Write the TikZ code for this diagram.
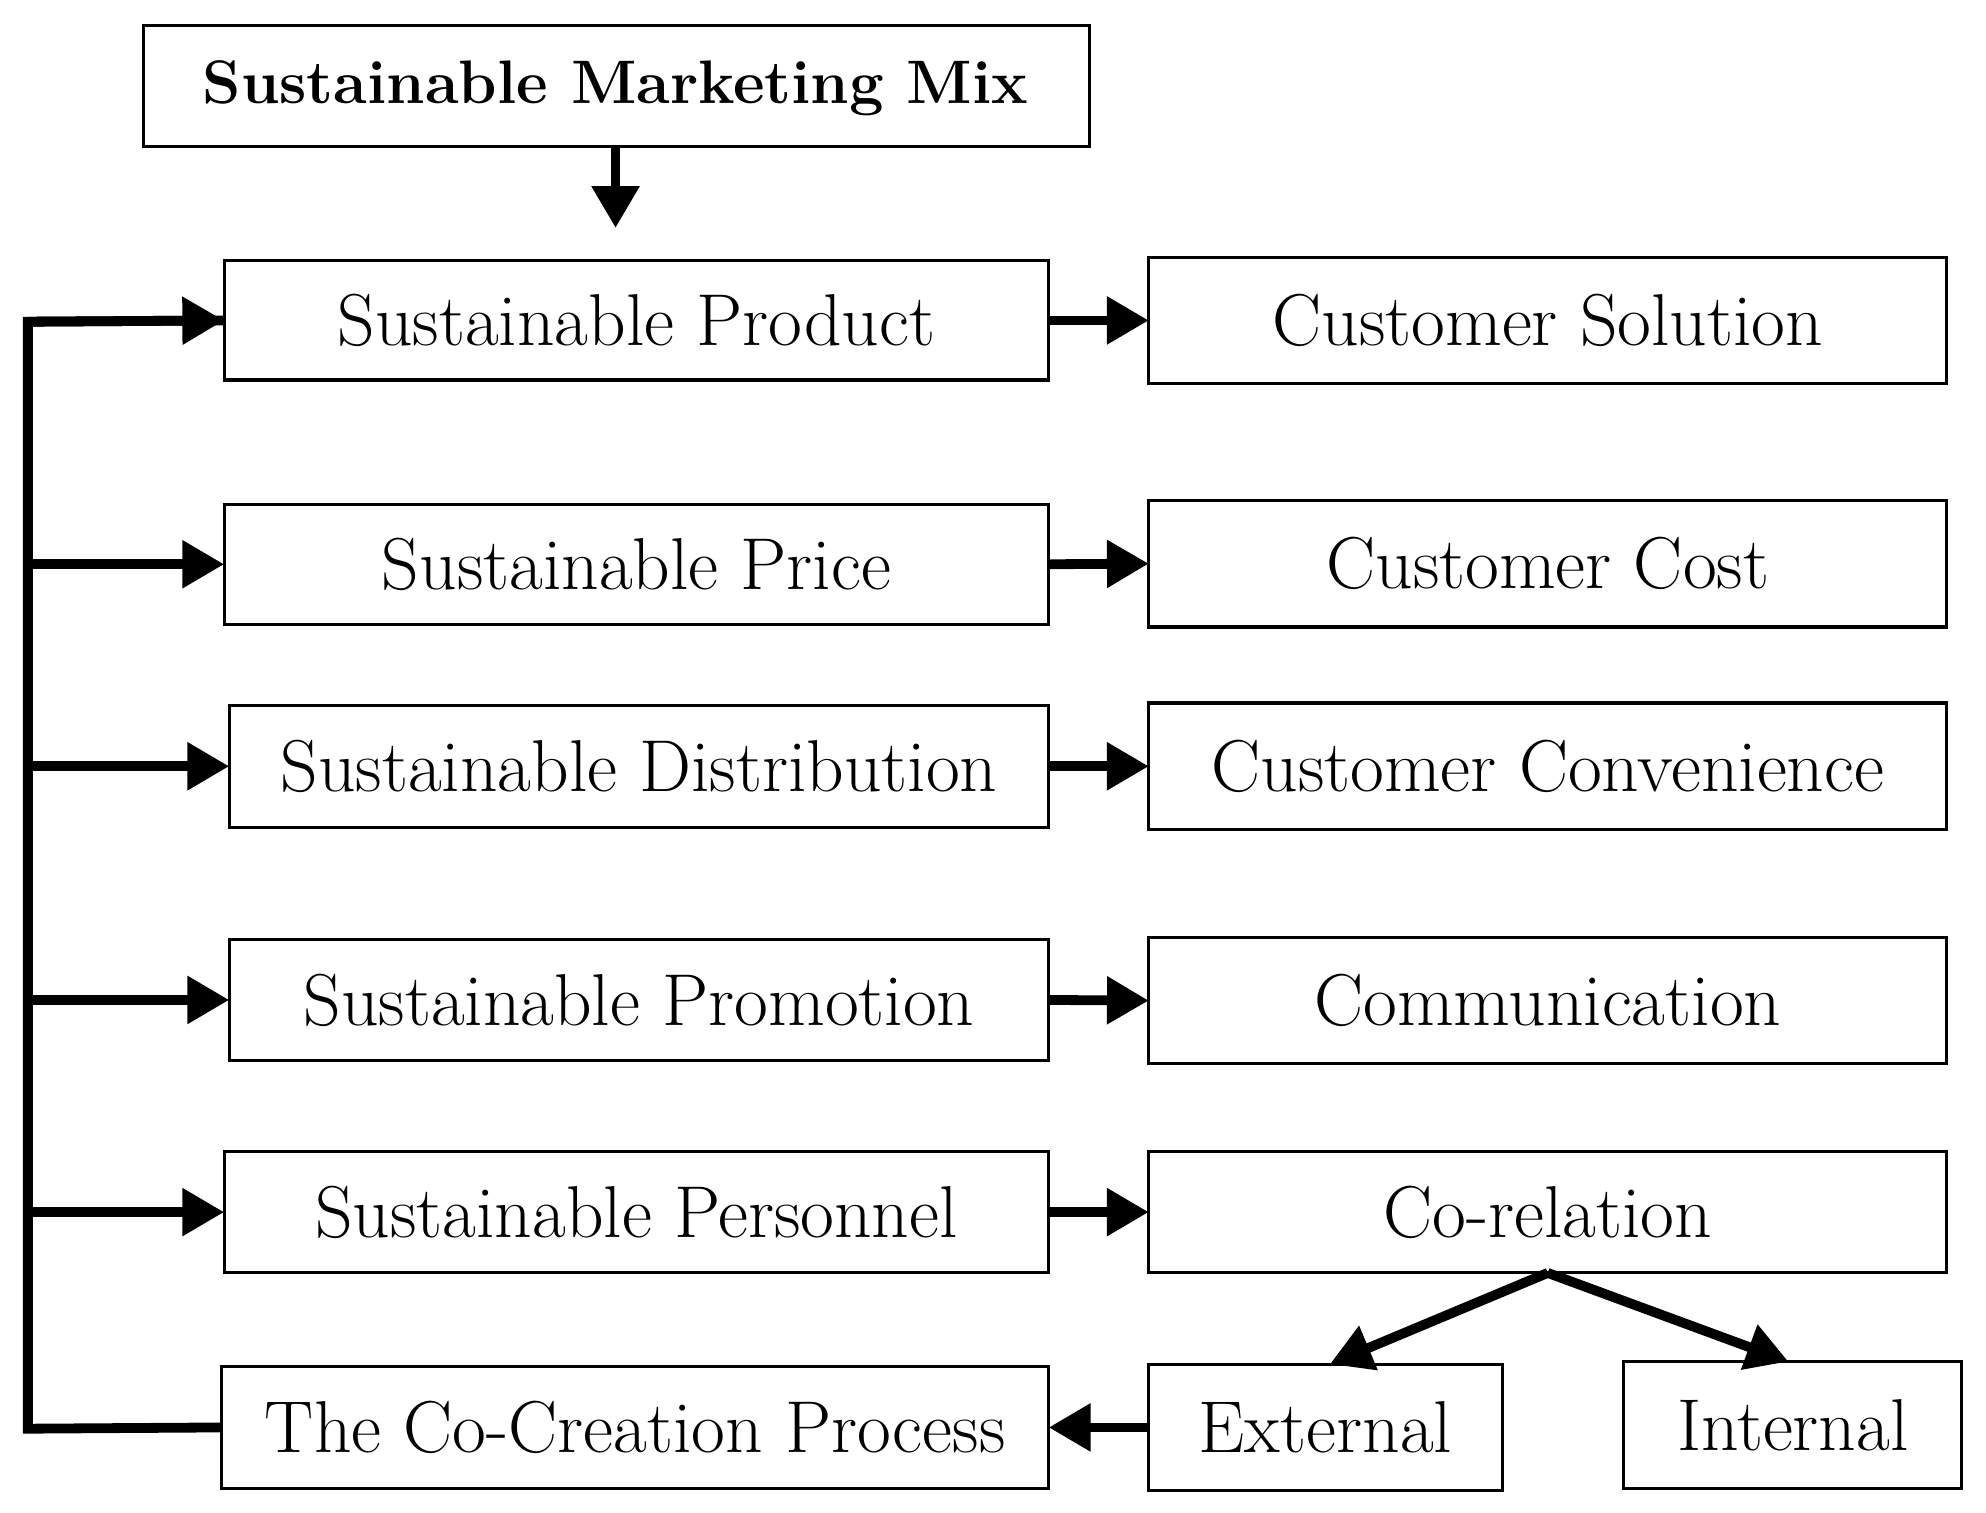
\documentclass[tikz,border=0pt]{standalone}
\usetikzlibrary{arrows.meta}
\begin{document}
\begin{tikzpicture}[x=0.01cm,y=-0.01cm,
  bx/.style={draw,line width=0.7pt,inner sep=0},
  ar/.style={line width=2.2pt,-{Triangle[length=0.33cm,width=0.36cm]}},
  ln/.style={line width=2.2pt},
  txt/.style={font=\fontsize{16.5}{19}\selectfont}]
\useasboundingbox (0,0) rectangle (1568,1194);
\newcommand\bxx[6]{\draw[bx] (#2,#3) rectangle (#4,#5); \node[txt] (#1) at ({(#2+#4)/2},{(#3+#5)/2}) {#6};
 \coordinate (#1W) at (#2,{(#3+#5)/2}); \coordinate (#1E) at (#4,{(#3+#5)/2});
 \coordinate (#1N) at ({(#2+#4)/2},#3); \coordinate (#1S) at ({(#2+#4)/2},#5);}
\draw[bx] (113,20) rectangle (860,116);
\node[font=\fontsize{13.8}{17}\selectfont\bfseries] (t) at (486,70) {Sustainable Marketing Mix};
\coordinate (tS) at (486,116); \coordinate (tA) at (486,180);
\bxx{a}{177}{206}{828}{300}{Sustainable Product}
\bxx{b}{177}{398}{828}{493}{Sustainable Price}
\bxx{c}{181}{557}{828}{653}{Sustainable Distribution}
\bxx{d}{181}{742}{828}{837}{Sustainable Promotion}
\bxx{e}{177}{909}{828}{1005}{Sustainable Personnel}
\bxx{f}{175}{1079}{828}{1175}{The Co-Creation Process}
\bxx{A}{907}{203}{1537}{303}{Customer Solution}
\bxx{B}{907}{395}{1537}{495}{Customer Cost}
\bxx{C}{907}{555}{1537}{655}{Customer Convenience}
\bxx{D}{907}{740}{1537}{840}{Communication}
\bxx{E}{907}{909}{1537}{1005}{Co-relation}
\bxx{X}{907}{1077}{1186}{1177}{External}
\bxx{I}{1282}{1075}{1549}{1175}{Internal}
\draw[ar] (tS) -- (tA);
\foreach \p/\q in {a/A,b/B,c/C,d/D,e/E} \draw[ar] (\p E) -- (\q W);
\draw[ar] (XW) -- (fE);
\coordinate (Xt) at (1050,1077); \coordinate (It) at (1412,1075);
\draw[ar] (ES) -- (Xt);
\draw[ar] (ES) -- (It);
\coordinate (L1) at (22,254); \coordinate (L2) at (22,1128);
\draw[ln,line join=miter] (fW) -- (L2) -- (L1) -- (aW);
\draw[ar] (L1) -- (aW);
\foreach \p in {b,c,d,e} \draw[ar] (22,0 |- \p W) -- (\p W);
\end{tikzpicture}
\end{document}
